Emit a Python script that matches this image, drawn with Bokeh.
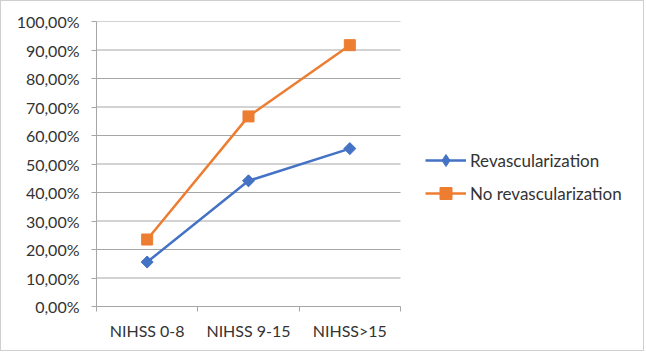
from bokeh.plotting import figure
from bokeh.models import Range1d, FixedTicker, Legend, LegendItem
from bokeh.embed import file_html
from bokeh.resources import INLINE
import numpy as np

categories = ["NIHSS 0-8", "NIHSS 9-15", "NIHSS>15"]
revasc = [15.6, 44.1, 55.4]
no_revasc = [23.5, 66.7, 91.7]
y_ticks = [0, 10, 20, 30, 40, 50, 60, 70, 80, 90, 100]
y_tick_labels = ["0,00%", "10,00%", "20,00%", "30,00%", "40,00%", "50,00%",
                 "60,00%", "70,00%", "80,00%", "90,00%", "100,00%"]

FONT = "Lato"
GRID = "#a6a6a6"
TEXT = "#333333"
BLUE = "#4472C4"
ORANGE = "#ED7D31"

n = len(categories)
xs = [i + 0.5 for i in range(n)]
bounds = list(range(n + 1))

FIG_W, FIG_H = 644, 351
LEFT, RIGHT, TOP, BOTTOM = 95, 4, 20, 46
PLOT_W = 304  # pixel width of the category area
frame_w = FIG_W - LEFT - RIGHT
x_end = n * frame_w / PLOT_W

p = figure(width=FIG_W, height=FIG_H, output_backend="svg", toolbar_location=None,
           x_range=Range1d(0, x_end), y_range=Range1d(0, 100))
p.styles = {"border": "1px solid #cfcfcf"}
p.min_border_left = LEFT
p.min_border_right = RIGHT
p.min_border_top = TOP
p.min_border_bottom = BOTTOM
p.outline_line_color = None
p.background_fill_color = "white"
p.border_fill_color = "white"

# gridlines limited to the category area
p.xgrid.grid_line_color = None
p.ygrid.grid_line_color = None
p.segment(x0=[0] * len(y_ticks), x1=[n] * len(y_ticks), y0=y_ticks, y1=y_ticks,
          line_color=GRID, line_width=1, level="underlay")

# axes
p.xaxis.bounds = (0, n)
p.xaxis.ticker = FixedTicker(ticks=xs, minor_ticks=bounds)
p.xaxis.major_label_overrides = {x: c for x, c in zip(xs, categories)}
p.xaxis.major_tick_out = 0
p.xaxis.major_tick_in = 0
p.xaxis.minor_tick_out = 5
p.xaxis.minor_tick_in = 0
p.xaxis.minor_tick_line_color = GRID
p.xaxis.axis_line_color = GRID
p.xaxis.major_label_text_font = FONT
p.xaxis.major_label_text_font_size = "16px"
p.xaxis.major_label_text_color = TEXT
p.xaxis.major_label_standoff = 9

p.yaxis.ticker = FixedTicker(ticks=y_ticks, minor_ticks=[])
p.yaxis.major_label_overrides = {t: l for t, l in zip(y_ticks, y_tick_labels)}
p.yaxis.major_tick_out = 5
p.yaxis.major_tick_in = 0
p.yaxis.major_tick_line_color = GRID
p.yaxis.axis_line_color = GRID
p.yaxis.major_label_text_font = FONT
p.yaxis.major_label_text_font_size = "16px"
p.yaxis.major_label_text_color = TEXT
p.yaxis.major_label_standoff = 12

l1 = p.line(xs, revasc, line_color=BLUE, line_width=2.5)
# plain diamond (used by the legend; hidden under the rotated square in the chart)
d1 = p.scatter(xs, revasc, marker="diamond", size=11,
               fill_color=BLUE, line_color=BLUE)
m1 = p.scatter(xs, revasc, marker="square", angle=np.pi / 4, size=8.5,
               fill_color=BLUE, line_color=BLUE)
l2 = p.line(xs, no_revasc, line_color=ORANGE, line_width=2.5)
m2 = p.scatter(xs, no_revasc, marker="square", size=11,
               fill_color=ORANGE, line_color=ORANGE)

legend = Legend(items=[LegendItem(label="Revascularization", renderers=[l1, d1]),
                       LegendItem(label="No revascularization", renderers=[l2, m2])],
                location=(329, 98))
legend.glyph_width = 41
legend.glyph_height = 30
legend.label_standoff = 4
legend.spacing = 3
legend.padding = 0
legend.margin = 0
legend.border_line_color = None
legend.background_fill_alpha = 0
legend.label_text_font = FONT
legend.label_text_font_size = "17px"
legend.label_text_color = TEXT
p.add_layout(legend, "center")

open("out.html", "w").write(file_html(p, INLINE))
